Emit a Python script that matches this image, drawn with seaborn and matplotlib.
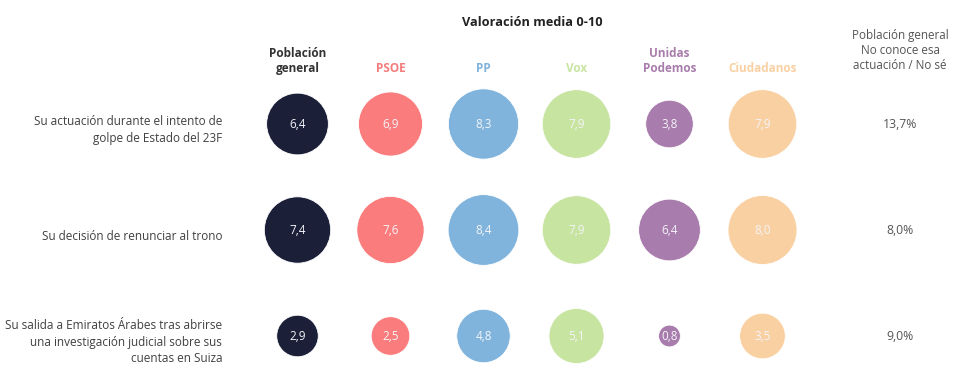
import numpy as np
import pandas as pd
import matplotlib
matplotlib.use("Agg")
import matplotlib.pyplot as plt
import seaborn as sns

# ── datos ──────────────────────────────
groups = ["Población\ngeneral", "PSOE", "PP", "Vox", "Unidas\nPodemos", "Ciudadanos"]
colors = ["#1b1f38", "#fb7c7c", "#80b4dc", "#c8e4a1", "#a87cac", "#f9d0a2"]
header_colors = ["#333333", "#f47c7c", "#7fb3dc", "#c8e4a1", "#a87cac", "#f9d0a2"]
items = [
    "Su actuación durante el intento de\ngolpe de Estado del 23F",
    "Su decisión de renunciar al trono",
    "Su salida a Emiratos Árabes tras abrirse\nuna investigación judicial sobre sus\ncuentas en Suiza",
]
scores = [
    [6.4, 6.9, 8.3, 7.9, 3.8, 7.9],
    [7.4, 7.6, 8.4, 7.9, 6.4, 8.0],
    [2.9, 2.5, 4.8, 5.1, 0.8, 3.5],
]
no_sabe = ["13,7%", "8,0%", "9,0%"]

rows = []
for j, item in enumerate(items):
    for i, g in enumerate(groups):
        rows.append({"col": i, "row": j, "group": g, "score": scores[j][i]})
df = pd.DataFrame(rows)

# ── figura ─────────────────────────────
sns.set_style("white")
plt.rcParams["font.family"] = ["Open Sans", "DejaVu Sans"]

fig = plt.figure(figsize=(9.61, 3.76), dpi=100)
ax = fig.add_axes([0, 0, 1, 1])

# área del círculo proporcional al valor: diámetro ~24.4 px * sqrt(v)
k = (24.4 * 0.72) ** 2
sns.scatterplot(
    data=df, x="col", y="row", hue="group", palette=dict(zip(groups, colors)),
    size="score", sizes=(0, k * 10), size_norm=(0, 10),
    edgecolor="white", linewidth=0.6, legend=False, ax=ax, zorder=3,
)

for _, r in df.iterrows():
    ax.text(r["col"], r["row"], f"{r['score']:.1f}".replace(".", ","),
            ha="center", va="center", fontsize=8.5, color="#f4f4f8", zorder=4)

# etiquetas de filas y columna derecha
for j, item in enumerate(items):
    ax.text(-0.81, j + 0.057, item, ha="right", va="center", fontsize=8.5,
            color="#404040", linespacing=1.35)
    ax.text(6.48, j, no_sabe[j], ha="center", va="center", fontsize=8.8,
            color="#555555")

# cabeceras
for i, g in enumerate(groups):
    ax.text(i, -0.46, g, ha="center", va="bottom", fontsize=8.5, fontweight="bold",
            color=header_colors[i], linespacing=1.27)

ax.text(2.53, -0.96, "Valoración media 0-10", ha="center", va="center",
        fontsize=9.2, fontweight="bold", color="#222222")
ax.text(6.48, -0.49, "Población general\nNo conoce esa\nactuación / No sé",
        ha="center", va="bottom", fontsize=8.4, color="#555555", linespacing=1.2)

ax.set_xlim(-297.5 / 93, (961 - 297.5) / 93)
ax.set_ylim((376 - 124) / 106, -124 / 106)
ax.axis("off")

fig.savefig("out.png", dpi=100)
plt.close()
